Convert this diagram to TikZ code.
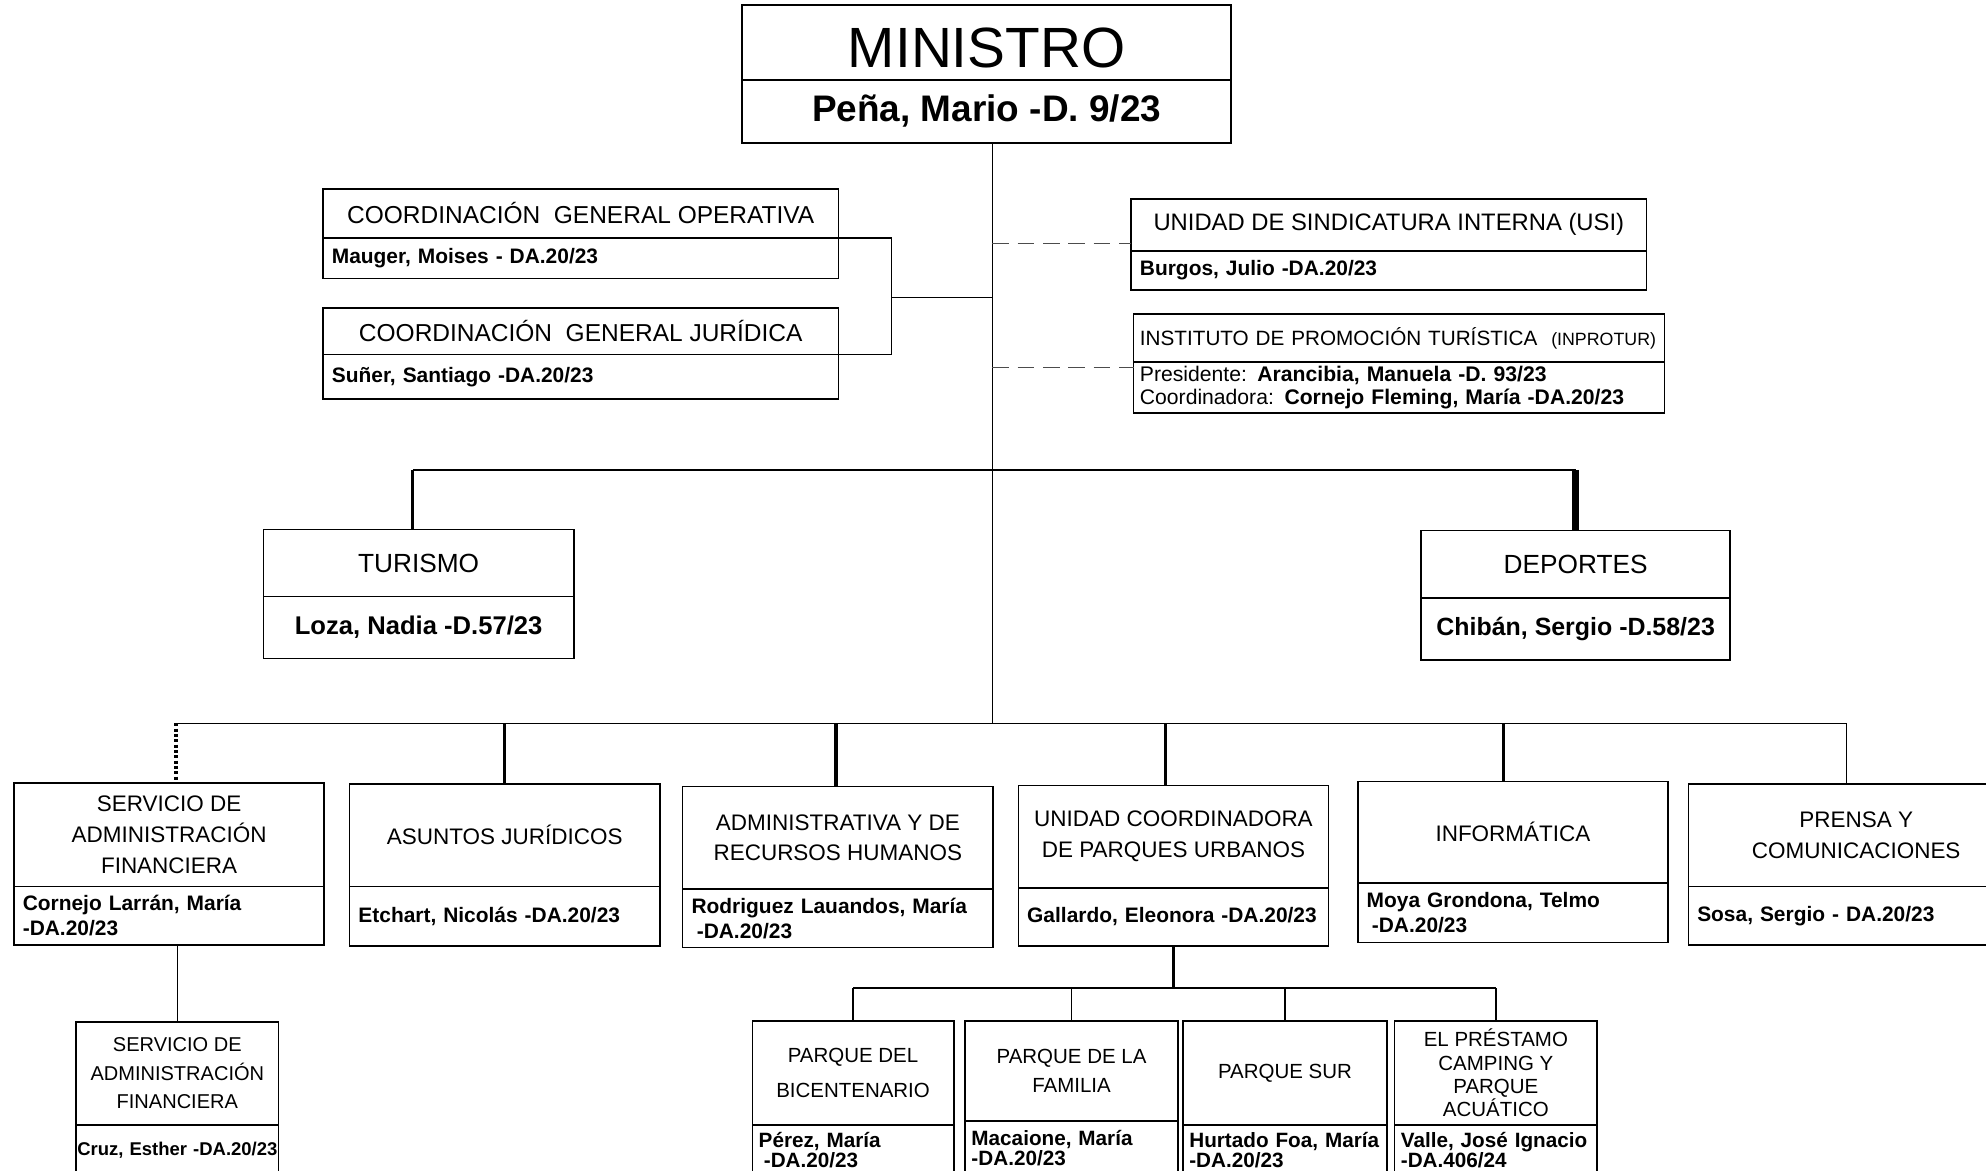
\documentclass[tikz,border=0pt]{standalone}
\usepackage{fontspec}
\setmainfont{Liberation Sans}
\usetikzlibrary{positioning}

\newcommand{\fontat}[2]{\fontsize{#1}{#2}\selectfont}

\begin{document}
\begin{tikzpicture}[
        box/.style = {draw, line width = 0.7pt, outer sep = 0pt, inner xsep = 0.14cm, inner ysep = 0pt, align = center},
        unit/.style = {box, font = \fontat{10.1}{13.8}},
        who/.style = {box, align = left, font = \bfseries\fontat{9.4}{11.3}},
        park/.style = {box, font = \fontat{9.2}{10.4}},
        parkwho/.style = {box, align = left, inner xsep = 0.1cm, minimum height = 0.80cm, font = \bfseries\fontat{9.3}{9}},
        link/.style = {line width = 0.6pt},
        thickline/.style = {line width = 1.4pt},
        heavyline/.style = {line width = 3pt},
        dotline/.style = {line width = 1.4pt, densely dotted},
        dashline/.style = {line width = 0.6pt, black!70, dash pattern = on 0.26cm off 0.14cm}
    ]
        \path [use as bounding box, fill = white] (0, 0) rectangle (31.36, -18.49);

        \node [box, anchor = north west, minimum width = 7.72cm, minimum height = 1.18cm, text height = 22.8pt, text depth = 0pt, font = \fontat{25.5}{30}] (ministro) at (11.72, -0.08) {MINISTRO};
        \node [box, below = 0pt of ministro, minimum width = 7.72cm, minimum height = 1.0cm, font = \bfseries\fontat{16.6}{20}] (ministroW) {Peña, Mario -D. 9/23};

        \coordinate (trunk) at (15.67, 0);
        \coordinate (bar1) at (15.67, -7.42);
        \coordinate (bar2) at (15.67, -11.42);
        \draw [line width = 0.5pt] (ministroW.south -| trunk) -- (bar2);

        % coordinaciones generales
        \node [box, anchor = north west, minimum width = 8.14cm, minimum height = 0.78cm, font = \fontat{11}{13}] (cgo) at (5.10, -2.98) {COORDINACIÓN\ \ GENERAL OPERATIVA};
        \node [who, below = 0pt of cgo, minimum width = 8.14cm, text width = 7.86cm, minimum height = 0.64cm] (cgoW) {Mauger, Moises - DA.20/23};
        \node [box, anchor = north west, minimum width = 8.14cm, minimum height = 0.74cm, font = \fontat{11}{13}] (cgj) at (5.10, -4.86) {COORDINACIÓN\ \ GENERAL JURÍDICA};
        \node [who, below = 0pt of cgj, minimum width = 8.14cm, text width = 7.86cm, minimum height = 0.70cm] (cgjW) {Suñer, Santiago -DA.20/23};
        \draw [link] (cgo.south east) -- ++(0.84, 0) |- (cgj.south east);
        \coordinate (cgIn) at (14.08, -4.70);
        \draw [link] (cgIn) -- (cgIn -| trunk);

        % sindicatura e instituto
        \node [box, anchor = north west, minimum width = 8.14cm, minimum height = 0.82cm, font = \fontat{10.7}{13}] (usi) at (17.86, -3.14) {UNIDAD DE SINDICATURA INTERNA (USI)};
        \node [who, below = 0pt of usi, minimum width = 8.14cm, text width = 7.86cm, minimum height = 0.62cm] (usiW) {Burgos, Julio -DA.20/23};
        \node [box, anchor = north west, align = left, inner xsep = 0.1cm, minimum width = 8.38cm, text width = 8.18cm, minimum height = 0.76cm, font = \fontat{9.3}{11}] (inp) at (17.90, -4.96) {\mbox{INSTITUTO DE PROMOCIÓN TURÍSTICA\ \ {\fontat{8}{10}(INPROTUR)}}};
        \node [box, below = 0pt of inp, align = left, inner xsep = 0.1cm, minimum width = 8.38cm, text width = 8.18cm, minimum height = 0.80cm, font = \fontat{9.5}{10.2}] (inpW) {Presidente: \textbf{Arancibia, Manuela -D. 93/23}\\Coordinadora: \textbf{Cornejo Fleming, María -DA.20/23}};
        \coordinate (usiIn) at (17.86, -3.84);
        \coordinate (inpIn) at (17.90, -5.80);
        \draw [dashline] (usiIn -| trunk) -- (usiIn);
        \draw [dashline] (inpIn -| trunk) -- (inpIn);

        % turismo y deportes
        \node [box, anchor = north west, minimum width = 4.90cm, minimum height = 1.06cm, font = \fontat{11.8}{14}] (tur) at (4.16, -8.36) {TURISMO};
        \node [box, below = 0pt of tur, minimum width = 4.90cm, minimum height = 0.98cm, font = \bfseries\fontat{11.5}{14}] (turW) {Loza, Nadia -D.57/23};
        \node [box, anchor = north west, minimum width = 4.88cm, minimum height = 1.06cm, font = \fontat{11.8}{14}] (dep) at (22.44, -8.38) {DEPORTES};
        \node [box, below = 0pt of dep, minimum width = 4.88cm, minimum height = 0.98cm, font = \bfseries\fontat{11.2}{14}] (depW) {Chibán, Sergio -D.58/23};
        \coordinate (turUp) at (6.52, -7.42);
        \draw [link] (turUp) -- (dep.north |- bar1);
        \draw [thickline] (turUp) -- (turUp |- tur.north);
        \draw [heavyline] (dep.north |- bar1) -- (dep.north);

        % direcciones
        \node [unit, anchor = north west, minimum width = 4.90cm, minimum height = 1.64cm] (saf) at (0.22, -12.36) {SERVICIO DE\\ADMINISTRACIÓN\\FINANCIERA};
        \node [who, below = 0pt of saf, minimum width = 4.90cm, text width = 4.62cm, minimum height = 0.92cm] (safW) {Cornejo Larrán, María\\-DA.20/23};
        \node [unit, anchor = north west, minimum width = 4.90cm, minimum height = 1.62cm] (asu) at (5.52, -12.38) {ASUNTOS JURÍDICOS};
        \node [who, below = 0pt of asu, minimum width = 4.90cm, text width = 4.62cm, minimum height = 0.94cm] (asuW) {Etchart, Nicolás -DA.20/23};
        \node [unit, anchor = north west, minimum width = 4.90cm, minimum height = 1.62cm] (adm) at (10.78, -12.42) {ADMINISTRATIVA Y DE\\RECURSOS HUMANOS};
        \node [who, below = 0pt of adm, minimum width = 4.90cm, text width = 4.62cm, minimum height = 0.92cm] (admW) {Rodriguez Lauandos, María\\\hspace*{0.25em}-DA.20/23};
        \node [unit, anchor = north west, minimum width = 4.90cm, minimum height = 1.62cm] (ucp) at (16.08, -12.40) {UNIDAD COORDINADORA\\DE PARQUES URBANOS};
        \node [who, below = 0pt of ucp, minimum width = 4.90cm, text width = 4.62cm, minimum height = 0.92cm] (ucpW) {Gallardo, Eleonora -DA.20/23};
        \node [unit, anchor = north west, minimum width = 4.90cm, minimum height = 1.60cm] (inf) at (21.44, -12.34) {INFORMÁTICA};
        \node [who, below = 0pt of inf, minimum width = 4.90cm, text width = 4.62cm, minimum height = 0.94cm] (infW) {Moya Grondona, Telmo\\\hspace*{0.25em}-DA.20/23};
        \node [unit, anchor = north west, minimum width = 5.30cm, minimum height = 1.62cm] (pre) at (26.66, -12.38) {PRENSA Y\\COMUNICACIONES};
        \node [who, below = 0pt of pre, minimum width = 5.30cm, text width = 5.02cm, minimum height = 0.92cm] (preW) {Sosa, Sergio - DA.20/23};

        \coordinate (upsaf) at (2.78, -11.42);
        \coordinate (uppre) at (29.16, -11.42);
        \draw [link] (upsaf) -- (uppre);
        \draw [dotline] (upsaf) -- (upsaf |- saf.north);
        \draw [link] (uppre) -- (uppre |- pre.north);
        \foreach \n/\x in {asu/7.96, adm/13.20, ucp/18.40, inf/23.74} {
            \coordinate (up\n) at (\x, -11.42);
            \draw [thickline] (up\n) -- (up\n |- \n.north);
        }

        % servicio dependiente
        \node [box, anchor = north west, minimum width = 3.20cm, minimum height = 1.62cm, font = \fontat{9}{12.8}] (sub) at (1.20, -16.14) {SERVICIO DE\\ADMINISTRACIÓN\\FINANCIERA};
        \node [box, below = 0pt of sub, align = left, inner xsep = 0.02cm, minimum width = 3.20cm, text width = 3.16cm, minimum height = 0.80cm, font = \bfseries\fontat{8.3}{10}] (subW) {\mbox{Cruz, Esther -DA.20/23}};
        \draw [link] (sub.north) -- (sub.north |- safW.south);

        % parques
        \node [park, anchor = north west, minimum width = 3.18cm, minimum height = 1.64cm, font = \fontat{9.2}{15.9}] (bic) at (11.88, -16.12) {PARQUE DEL\\BICENTENARIO};
        \node [parkwho, below = 0pt of bic, minimum width = 3.18cm, text width = 2.98cm] (bicW) {Pérez, María\\\hspace*{0.25em}-DA.20/23};
        \node [park, anchor = north west, minimum width = 3.36cm, minimum height = 1.58cm, font = \fontat{9.2}{13}] (fam) at (15.24, -16.12) {PARQUE DE LA\\FAMILIA};
        \node [parkwho, below = 0pt of fam, minimum width = 3.36cm, text width = 3.16cm, minimum height = 0.86cm] (famW) {Macaione, María\\-DA.20/23};
        \node [park, anchor = north west, minimum width = 3.22cm, minimum height = 1.64cm] (sur) at (18.68, -16.12) {PARQUE SUR};
        \node [parkwho, below = 0pt of sur, minimum width = 3.22cm, text width = 3.02cm] (surW) {Hurtado Foa, María\\-DA.20/23};
        \node [park, anchor = north west, minimum width = 3.20cm, minimum height = 1.64cm] (pst) at (22.02, -16.12) {EL PRÉSTAMO\\CAMPING Y\\PARQUE\\ACUÁTICO};
        \node [parkwho, below = 0pt of pst, minimum width = 3.20cm, text width = 3.00cm] (pstW) {Valle, José Ignacio\\-DA.406/24};

        \coordinate (pbar) at (18.53, -15.60);
        \draw [thickline] (ucpW.south) -- (ucpW.south |- pbar);
        \draw [link] (bic.north |- pbar) -- (pst.north |- pbar);
        \foreach \n in {bic, fam, sur, pst} \draw [link] (\n.north) -- (\n.north |- pbar);
\end{tikzpicture}
\end{document}
